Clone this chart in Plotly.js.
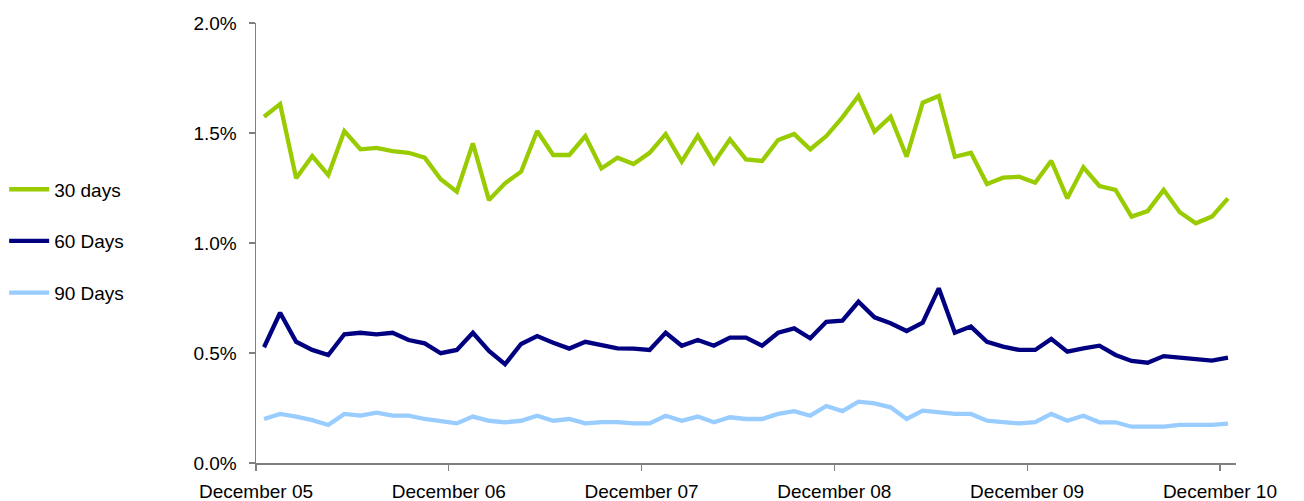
<!DOCTYPE html>
<html>
<head>
<meta charset="utf-8">
<script src="https://cdn.plot.ly/plotly-3.0.1.min.js"></script>
<style>html,body{margin:0;padding:0;background:#fff}#chart{width:1304px;height:501px}</style>
</head>
<body>
<div id="chart"></div>
<script>
// Monthly observations, December 2005 .. December 2010 (61 points), values in %
var seriesNames = ["30 days", "60 Days", "90 Days"];
var tickLabels = ["December 05", "December 06", "December 07", "December 08", "December 09", "December 10"];

var days30 = [1.574, 1.632, 1.294, 1.395, 1.309, 1.509, 1.426, 1.432, 1.418, 1.410,
  1.388, 1.290, 1.233, 1.453, 1.195, 1.271, 1.324, 1.509, 1.400, 1.400,
  1.486, 1.339, 1.388, 1.359, 1.410, 1.495, 1.370, 1.488, 1.365, 1.471,
  1.380, 1.373, 1.468, 1.495, 1.426, 1.486, 1.571, 1.668, 1.506, 1.574,
  1.392, 1.638, 1.668, 1.392, 1.410, 1.268, 1.297, 1.301, 1.274, 1.374,
  1.203, 1.344, 1.259, 1.241, 1.120, 1.145, 1.241, 1.140, 1.090, 1.120,
  1.203];

var days60 = [0.526, 0.683, 0.551, 0.514, 0.491, 0.585, 0.592, 0.585, 0.592, 0.559,
  0.544, 0.499, 0.514, 0.592, 0.509, 0.449, 0.541, 0.577, 0.547, 0.520,
  0.551, 0.536, 0.521, 0.520, 0.514, 0.592, 0.533, 0.559, 0.533, 0.570,
  0.570, 0.533, 0.592, 0.612, 0.567, 0.642, 0.647, 0.733, 0.662, 0.635,
  0.600, 0.638, 0.794, 0.592, 0.620, 0.551, 0.529, 0.514, 0.514, 0.564,
  0.506, 0.521, 0.533, 0.491, 0.464, 0.456, 0.486, 0.479, 0.471, 0.465,
  0.479];

var days90 = [0.200, 0.223, 0.211, 0.195, 0.173, 0.223, 0.215, 0.229, 0.215, 0.215,
  0.200, 0.192, 0.180, 0.211, 0.192, 0.185, 0.192, 0.215, 0.192, 0.200,
  0.180, 0.186, 0.186, 0.180, 0.180, 0.215, 0.192, 0.211, 0.185, 0.208,
  0.200, 0.200, 0.223, 0.236, 0.215, 0.259, 0.236, 0.279, 0.271, 0.253,
  0.200, 0.238, 0.230, 0.223, 0.223, 0.192, 0.186, 0.180, 0.186, 0.223,
  0.192, 0.215, 0.185, 0.185, 0.165, 0.165, 0.165, 0.173, 0.173, 0.173,
  0.179];

var colors = ["#99CC00", "#000080", "#99CCFF"];
var allSeries = [days30, days60, days90];

var idx = days30.map(function (_, i) { return i; });
var tickPos = tickLabels.map(function (_, k) { return k * 12 - 0.5; });

var traces = allSeries.map(function (s, k) {
  return {
    x: idx, y: s, type: "scatter", mode: "lines",
    name: seriesNames[k], legendgroup: "g" + k,
    line: {color: colors[k], width: 4.3, shape: "linear"},
    hoverinfo: "y+name"
  };
});

var font = {family: "Liberation Sans, Arial, sans-serif", size: 19, color: "#000"};

var layout = {
  width: 1304, height: 501,
  margin: {l: 256, r: 68, t: 23, b: 38, pad: 0, autoexpand: false},
  paper_bgcolor: "#fff", plot_bgcolor: "#fff",
  font: font,
  showlegend: true,
  legend: {
    x: -0.257, xanchor: "left", y: 0.665, yanchor: "top",
    traceorder: "grouped", tracegroupgap: 24,
    font: font, bgcolor: "rgba(0,0,0,0)", itemwidth: 40
  },
  xaxis: {
    range: [-0.5, 60.5], showgrid: false, zeroline: false,
    showline: true, linecolor: "#808080", linewidth: 1.5,
    tickmode: "array", tickvals: tickPos, ticktext: tickLabels,
    ticks: "outside", ticklen: 6, tickcolor: "#808080", tickwidth: 1.2,
    ticklabelstandoff: 5, tickfont: font, automargin: false
  },
  yaxis: {
    range: [0, 2], dtick: 0.5, tick0: 0, tickformat: ".1f", ticksuffix: "%",
    showgrid: false, zeroline: false,
    showline: true, linecolor: "#808080", linewidth: 1.5,
    ticks: "outside", ticklen: 6, tickcolor: "#808080", tickwidth: 1.2,
    ticklabelstandoff: 8, tickfont: font, automargin: false
  }
};

Plotly.newPlot("chart", traces, layout, {displayModeBar: false, staticPlot: true});
</script>
</body>
</html>
